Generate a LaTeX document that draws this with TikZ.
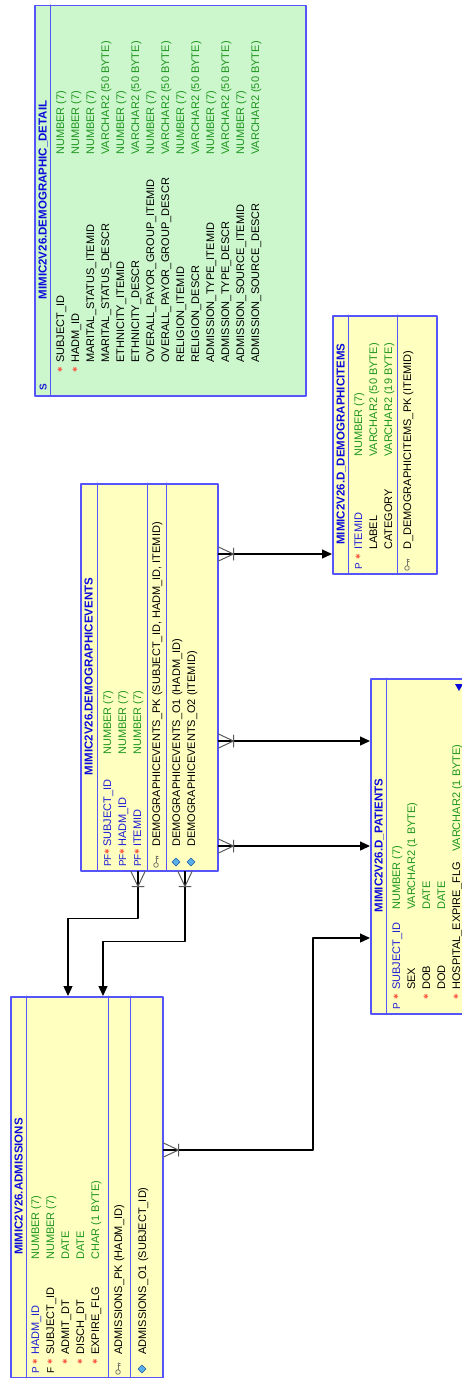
\documentclass[tikz,border=0pt]{standalone}
\usepackage{fontspec}
\newfontfamily\erfont{Liberation Sans}
\newfontfamily\symfont{DejaVu Sans}
\usetikzlibrary{arrows.meta,calc}

\definecolor{erblue}{RGB}{85,85,250}
\definecolor{erfill}{RGB}{255,255,192}
\definecolor{detfill}{RGB}{204,246,204}
\definecolor{ttlblue}{RGB}{10,10,220}
\definecolor{keyblue}{RGB}{30,30,215}
\definecolor{typgreen}{RGB}{30,150,30}
\definecolor{starred}{RGB}{250,90,70}
\definecolor{crowgray}{RGB}{90,90,90}
\definecolor{diafill}{RGB}{90,175,235}
\definecolor{diaedge}{RGB}{30,90,160}
\definecolor{keygray}{RGB}{120,120,110}

\tikzset{
  tbl/.style={draw=erblue, line width=1.5pt, fill=erfill, anchor=north west, inner sep=0pt},
  sepline/.style={draw=erblue, line width=1pt},
  txt/.style={rotate=90, anchor=base west, inner sep=0pt, font=\erfont\fontsize{11}{13}\selectfont},
  ttl/.style={txt, anchor=base, text=ttlblue, font=\erfont\bfseries\fontsize{11.5}{13}\selectfont},
  typ/.style={txt, text=typgreen},
  keyc/.style={txt, font=\erfont\fontsize{10}{12}\selectfont},
  star/.style={rotate=90, anchor=center, inner sep=0pt, text=starred, font=\symfont\fontsize{6.5}{8}\selectfont},
  rel/.style={line width=1.3pt, -{Triangle[length=10pt,width=9pt]}},
  crow/.style={line width=1pt, draw=crowgray},
}

% 鸡爪：#1 = 表边上的坐标
\newcommand{\crowR}[1]{%
  \draw[crow] ($(#1)+(0,-7)$) -- ($(#1)+(15,0)$) -- ($(#1)+(0,7)$)
              ($(#1)+(15,-6)$) -- ($(#1)+(15,6)$);}
\newcommand{\crowD}[1]{%
  \draw[crow] ($(#1)+(-7,0)$) -- ($(#1)+(0,15)$) -- ($(#1)+(7,0)$)
              ($(#1)+(-6,15)$) -- ($(#1)+(6,15)$);}
% 主键小钥匙 / 索引小菱形
\newcommand{\pkicon}[2]{%
  \draw[keygray, fill=erfill, line width=0.8pt] (#1,#2+3) circle (2.3pt);
  \draw[keygray, line width=1pt] (#1,#2+0.7) -- (#1,#2-6) (#1,#2-3.5) -- (#1+2.2,#2-3.5) (#1,#2-5.5) -- (#1+2.2,#2-5.5);}
\newcommand{\idxicon}[2]{%
  \fill[diafill, draw=diaedge, line width=0.6pt] (#1-4,#2) -- (#1,#2-4) -- (#1+4,#2) -- (#1,#2+4) -- cycle;}

\begin{document}
\begin{tikzpicture}[x=1pt, y=-1pt, line cap=round, line join=round]

  %% ════ MIMIC2V26.DEMOGRAPHIC_DETAIL（绿色）════
  \node[tbl, fill=detfill, minimum width=271pt, minimum height=390pt] (det) at (34,5) {};
  \draw[sepline] (50,5) -- (50,395);
  \node[ttl] (det-ttl) at (46.5,200) {MIMIC2V26.DEMOGRAPHIC\_DETAIL};
  \node[keyc, text=keyblue, font=\erfont\bfseries\fontsize{10}{12}\selectfont] (det-s) at (46.5,391) {S};
  \foreach \st/\nm/\ty [count=\i] in {1/SUBJECT\_ID/NUMBER (7), 1/HADM\_ID/NUMBER (7),
      0/MARITAL\_STATUS\_ITEMID/NUMBER (7), 0/MARITAL\_STATUS\_DESCR/VARCHAR2 (50 BYTE),
      0/ETHNICITY\_ITEMID/NUMBER (7), 0/ETHNICITY\_DESCR/VARCHAR2 (50 BYTE),
      0/OVERALL\_PAYOR\_GROUP\_ITEMID/NUMBER (7), 0/OVERALL\_PAYOR\_GROUP\_DESCR/VARCHAR2 (50 BYTE),
      0/RELIGION\_ITEMID/NUMBER (7), 0/RELIGION\_DESCR/VARCHAR2 (50 BYTE),
      0/ADMISSION\_TYPE\_ITEMID/NUMBER (7), 0/ADMISSION\_TYPE\_DESCR/VARCHAR2 (50 BYTE),
      0/ADMISSION\_SOURCE\_ITEMID/NUMBER (7), 0/ADMISSION\_SOURCE\_DESCR/VARCHAR2 (50 BYTE)}{
    \pgfmathsetmacro\xb{64+15*(\i-1)}
    \ifnum\st=1 \node[star] (det-s\i) at (\xb-4,370) {✱};\fi
    \node[txt] (det-n\i) at (\xb,363) {\nm};
    \node[typ] (det-t\i) at (\xb,155) {\ty};
  }

  %% ════ MIMIC2V26.D_DEMOGRAPHICITEMS ════
  \node[tbl, minimum width=104pt, minimum height=258pt] (items) at (332,315) {};
  \draw[sepline] (348,315) -- (348,573);
  \draw[sepline] (397,315) -- (397,573);
  \node[ttl] (items-ttl) at (344.5,444) {MIMIC2V26.D\_DEMOGRAPHICITEMS};
  \foreach \key/\col/\st/\nm/\ty [count=\i] in {P/keyblue/1/ITEMID/NUMBER (7),
      {}/black/0/LABEL/VARCHAR2 (50 BYTE), {}/black/0/CATEGORY/VARCHAR2 (19 BYTE)}{
    \pgfmathsetmacro\xb{362+15*(\i-1)}
    \node[keyc, text=\col] (items-k\i) at (\xb,570) {\key};
    \ifnum\st=1 \node[star] (items-s\i) at (\xb-4,557) {✱};\fi
    \node[txt, text=\col] (items-n\i) at (\xb,550) {\nm};
    \node[typ] (items-t\i) at (\xb,457) {\ty};
  }
  \pkicon{407}{565}
  \node[txt] (items-pk) at (411,550) {D\_DEMOGRAPHICITEMS\_PK (ITEMID)};

  %% ════ MIMIC2V26.DEMOGRAPHICEVENTS ════
  \node[tbl, minimum width=137pt, minimum height=387pt] (evt) at (80,483) {};
  \draw[sepline] (97,483) -- (97,870);
  \draw[sepline] (147,483) -- (147,870);
  \draw[sepline] (166,483) -- (166,870);
  \node[ttl] (evt-ttl) at (92.5,676.5) {MIMIC2V26.DEMOGRAPHICEVENTS};
  \foreach \nm [count=\i] in {SUBJECT\_ID, HADM\_ID, ITEMID}{
    \pgfmathsetmacro\xb{111+15*(\i-1)}
    \node[keyc, text=keyblue] (evt-k\i) at (\xb,867) {PF};
    \node[star] (evt-s\i) at (\xb-4,851.5) {✱};
    \node[txt, text=keyblue] (evt-n\i) at (\xb,847) {\nm};
    \node[typ] (evt-t\i) at (\xb,755) {NUMBER (7)};
  }
  \pkicon{156}{862}
  \node[txt] (evt-pk) at (160,847) {DEMOGRAPHICEVENTS\_PK (SUBJECT\_ID, HADM\_ID, ITEMID)};
  \idxicon{176}{862}
  \node[txt] (evt-o1) at (180,847) {DEMOGRAPHICEVENTS\_O1 (HADM\_ID)};
  \idxicon{191}{862}
  \node[txt] (evt-o2) at (195,847) {DEMOGRAPHICEVENTS\_O2 (ITEMID)};

  %% ════ MIMIC2V26.D_PATIENTS（右边被裁掉）════
  \node[tbl, minimum width=110pt, minimum height=335pt] (pat) at (370,678) {};
  \draw[sepline] (386,678) -- (386,1013);
  \node[ttl] (pat-ttl) at (382.5,845.5) {MIMIC2V26.D\_PATIENTS};
  \foreach \key/\col/\st/\nm/\ty/\yt [count=\i] in {P/keyblue/1/SUBJECT\_ID/NUMBER (7)/910,
      {}/black/0/SEX/VARCHAR2 (1 BYTE)/910, {}/black/1/DOB/DATE/910, {}/black/0/DOD/DATE/910,
      {}/black/1/HOSPITAL\_EXPIRE\_FLG/VARCHAR2 (1 BYTE)/852}{
    \pgfmathsetmacro\xb{400+15*(\i-1)}
    \node[keyc, text=\col] (pat-k\i) at (\xb,1010) {\key};
    \ifnum\st=1 \node[star] (pat-s\i) at (\xb-4,997) {✱};\fi
    \node[txt, text=\col] (pat-n\i) at (\xb,990) {\nm};
    \node[typ] (pat-t\i) at (\xb,\yt) {\ty};
  }
  \fill[ttlblue] (455,684) -- (463,684) -- (459,691) -- cycle;

  %% ════ MIMIC2V26.ADMISSIONS ════
  \node[tbl, minimum width=152pt, minimum height=381pt] (adm) at (10,996) {};
  \draw[sepline] (26,996) -- (26,1377);
  \draw[sepline] (108,996) -- (108,1377);
  \draw[sepline] (130,996) -- (130,1377);
  \node[ttl] (adm-ttl) at (22.5,1186.5) {MIMIC2V26.ADMISSIONS};
  \foreach \key/\col/\nm/\ty [count=\i] in {P/keyblue/HADM\_ID/NUMBER (7),
      F/black/SUBJECT\_ID/NUMBER (7), {}/black/ADMIT\_DT/DATE,
      {}/black/DISCH\_DT/DATE, {}/black/EXPIRE\_FLG/CHAR (1 BYTE)}{
    \pgfmathsetmacro\xb{39+15*(\i-1)}
    \node[keyc, text=\col] (adm-k\i) at (\xb,1374) {\key};
    \node[star] (adm-s\i) at (\xb-4,1362) {✱};
    \node[txt, text=\col] (adm-n\i) at (\xb,1355) {\nm};
    \node[typ] (adm-t\i) at (\xb,1260) {\ty};
  }
  \pkicon{118}{1369}
  \node[txt] (adm-pk) at (122,1355) {ADMISSIONS\_PK (HADM\_ID)};
  \idxicon{142}{1369}
  \node[txt] (adm-o1) at (146,1355) {ADMISSIONS\_O1 (SUBJECT\_ID)};

  %% ════ 连线（外键）════
  \coordinate (c1) at (evt.east |- 0,554);
  \coordinate (c2) at (evt.east |- 0,741);
  \coordinate (c3) at (evt.east |- 0,846);
  \coordinate (c4) at (evt.south -| 138,0);
  \coordinate (c5) at (evt.south -| 185,0);
  \coordinate (c6) at (adm.east |- 0,1150);
  \draw[rel] (c1) -- (items.west |- c1);
  \draw[rel] (c2) -- (pat.west |- c2);
  \draw[rel] (c3) -- (pat.west |- c3);
  \draw[rel] (c4) -- ++(0,47) -| (adm.north -| 68,0);
  \draw[rel] (c5) -- ++(0,70) -| (adm.north -| 103,0);
  \draw[rel] (c6) -- (313,1150) |- (pat.west |- 0,938);
  \crowR{c1} \crowR{c2} \crowR{c3} \crowD{c4} \crowD{c5} \crowR{c6}

  % 钉死画布
  \pgfresetboundingbox
  \path[use as bounding box] (0,0) rectangle (461,1378);
\end{tikzpicture}
\end{document}
